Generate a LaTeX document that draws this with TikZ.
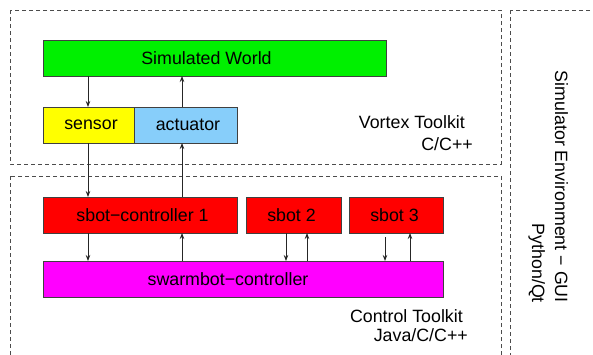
\documentclass[tikz,border=0pt]{standalone}
\usepackage{fontspec}
\setmainfont{Liberation Sans}
\usetikzlibrary{arrows.meta}
\definecolor{wgreen}{HTML}{00F000}
\definecolor{wyellow}{HTML}{FFFF00}
\definecolor{wblue}{HTML}{87CEFA}
\definecolor{wred}{HTML}{FF0000}
\definecolor{wmag}{HTML}{FF00FF}
\tikzset{
  box/.style={draw=black!75, line width=1pt, inner sep=0pt, outer sep=0pt, anchor=north west, font=\fontsize{17.8}{20}\selectfont},
  frame/.style={draw=black!70, line width=0.8pt, dash pattern=on 4pt off 3pt},
  arr/.style={-{Stealth[length=6pt,width=4.5pt,inset=2pt]}, line width=0.8pt, draw=black!85},
  lbl/.style={font=\fontsize{17.8}{20}\selectfont, inner sep=0pt, anchor=base east},
}
\begin{document}
\begin{tikzpicture}[x=1pt,y=-1pt]
\useasboundingbox (0,0) rectangle (593,354);
\clip (0,0) rectangle (593,354);
% dashed frames
\draw[frame] (10,10) rectangle (501,164);
\draw[frame] (10,176) rectangle (501,370);
\draw[frame] (510,10) rectangle (610,370);
% boxes
\node[box, fill=wgreen, minimum width=343pt, minimum height=36pt] (world) at (43,40) {Simulated World\hspace*{16pt}};
\node[box, fill=wyellow, minimum width=91pt, minimum height=36pt] (sensor) at (43,107) {\hspace*{5pt}sensor};
\node[box, fill=wblue, minimum width=103pt, minimum height=36pt] (act) at (134,107) {\hspace*{5pt}actuator};
\node[box, fill=wred, minimum width=194pt, minimum height=36pt] (sb1) at (43,197) {\hspace*{5pt}sbot−controller 1};
\node[box, fill=wred, minimum width=95pt, minimum height=36pt] (sb2) at (246,197) {sbot 2\hspace*{4pt}};
\node[box, fill=wred, minimum width=94pt, minimum height=36pt] (sb3) at (349,197) {sbot 3\hspace*{3pt}};
\node[box, fill=wmag, minimum width=400pt, minimum height=36pt] (swarm) at (43,261) {swarmbot−controller\hspace*{30pt}};
% x positions of connectors
\coordinate (xa) at (88,0);
\coordinate (xb) at (182,0);
\coordinate (xc) at (286,0);
\coordinate (xd) at (307,0);
\coordinate (xe) at (385,0);
\coordinate (xf) at (410,0);
\coordinate (s3gap) at (385,237);
% connectors
\draw[arr] (world.south -| xa) -- (sensor.north -| xa);
\draw[arr] (act.north -| xb) -- (world.south -| xb);
\draw[arr] (sensor.south -| xa) -- (sb1.north -| xa);
\draw[arr] (sb1.north -| xb) -- (act.south -| xb);
\draw[arr] (sb1.south -| xa) -- (swarm.north -| xa);
\draw[arr] (swarm.north -| xb) -- (sb1.south -| xb);
\draw[arr] (sb2.south -| xc) -- (swarm.north -| xc);
\draw[arr] (swarm.north -| xd) -- (sb2.south -| xd);
\draw[arr] (s3gap) -- (swarm.north -| xe);
\draw[arr] (swarm.north -| xf) -- (sb3.south -| xf);
% labels
\node[lbl] (vt) at (465,128) {Vortex Toolkit};
\node[lbl] (vc) at (473,150) {C/C++};
\node[lbl] (ct) at (463,322) {Control Toolkit};
\node[lbl] (cj) at (468,341) {Java/C/C++};
\node[lbl, rotate=-90] (se) at (555,303) {Simulator Environment − GUI};
\node[lbl, rotate=-90] (pq) at (532,303) {Python/Qt};
\end{tikzpicture}
\end{document}
